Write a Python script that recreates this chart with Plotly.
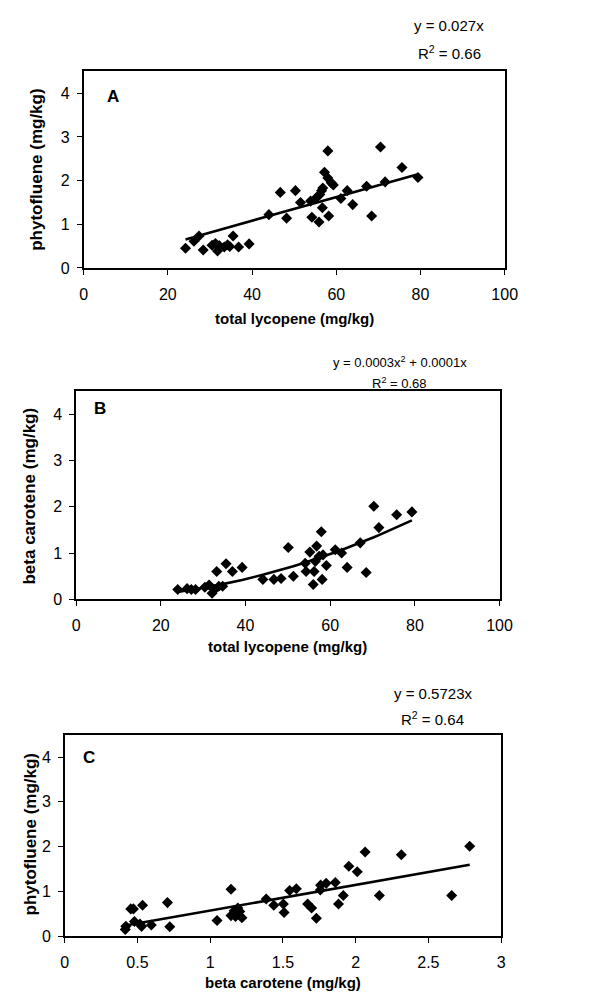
import plotly.graph_objects as go

W, H = 603, 992
FONT = "Liberation Sans, Arial, sans-serif"

# ---------------- data ----------------
# Panel A: total lycopene (mg/kg) vs phytofluene (mg/kg)
lyco_a = [24.2, 26.2, 27.4, 28.4, 30.5, 31.3, 31.8, 32.2, 33.4, 34.2, 34.7, 35.5, 36.8, 39.3,
          44.0, 46.7, 48.2, 50.3, 51.5, 53.9, 54.2, 55.3, 55.9, 56.1, 56.5, 56.7, 56.8, 57.2,
          58.0, 58.2, 58.0, 58.8, 59.3, 61.1, 62.6, 63.9, 67.2, 68.4, 70.5, 71.6, 75.6, 79.4]
phyto_a = [0.45, 0.61, 0.73, 0.41, 0.52, 0.56, 0.39, 0.51, 0.48, 0.53, 0.49, 0.73, 0.48, 0.55,
           1.22, 1.73, 1.14, 1.77, 1.50, 1.53, 1.16, 1.61, 1.05, 1.68, 1.77, 1.38, 1.83, 2.19,
           2.68, 1.19, 2.06, 1.95, 1.90, 1.59, 1.77, 1.45, 1.87, 1.19, 2.77, 1.97, 2.30, 2.07]

# Panel B: total lycopene (mg/kg) vs beta carotene (mg/kg)
lyco_b = [24.0, 26.2, 27.2, 28.2, 30.4, 31.4, 32.1, 32.7, 33.2, 33.7, 34.6, 35.4, 36.9, 39.2,
          44.1, 46.7, 48.4, 50.1, 51.3, 54.1, 54.3, 55.2, 56.0, 56.2, 56.5, 56.8, 57.4, 57.9,
          58.1, 58.3, 59.1, 61.2, 62.7, 64.0, 67.1, 68.5, 70.3, 71.5, 75.7, 79.3]
beta_b = [0.21, 0.23, 0.21, 0.21, 0.26, 0.31, 0.13, 0.21, 0.60, 0.28, 0.28, 0.77, 0.60, 0.69,
          0.43, 0.43, 0.45, 1.12, 0.50, 0.78, 0.60, 1.02, 0.32, 0.60, 0.82, 1.15, 0.93, 1.46,
          0.43, 0.96, 0.73, 1.07, 1.00, 0.69, 1.22, 0.58, 2.01, 1.55, 1.83, 1.89]

# Panel C: beta carotene (mg/kg) vs phytofluene (mg/kg)
beta_c = [0.416, 0.42, 0.454, 0.472, 0.479, 0.517, 0.528, 0.535, 0.595, 0.706, 0.722,
          1.047, 1.143, 1.143, 1.165, 1.174, 1.19, 1.203, 1.218, 1.385, 1.437, 1.503, 1.508,
          1.546, 1.592, 1.670, 1.697, 1.730, 1.757, 1.759, 1.797, 1.860, 1.882, 1.915, 1.953,
          2.011, 2.065, 2.163, 2.314, 2.66, 2.784]
phyto_c = [0.15, 0.22, 0.61, 0.61, 0.33, 0.27, 0.22, 0.69, 0.25, 0.75, 0.21,
           0.35, 1.05, 0.46, 0.57, 0.44, 0.63, 0.55, 0.41, 0.83, 0.69, 0.72, 0.53,
           1.02, 1.06, 0.72, 0.63, 0.40, 1.03, 1.14, 1.18, 1.20, 0.72, 0.91, 1.56,
           1.44, 1.88, 0.91, 1.82, 0.91, 2.01]

# Trendline coefficients
slope_a = 0.027
quad_b = (0.00027, 0.0001)
slope_c = 0.5723

eq_a = ["y = 0.027x", "R<sup>2</sup> = 0.66"]
eq_b = ["y = 0.0003x<sup>2</sup> + 0.0001x", "R<sup>2</sup> = 0.68"]
eq_c = ["y = 0.5723x", "R<sup>2</sup> = 0.64"]

panel_labels = ["A", "B", "C"]
x_titles = ["total lycopene (mg/kg)", "total lycopene (mg/kg)", "beta carotene (mg/kg)"]
y_titles = ["phytofluene (mg/kg)", "beta carotene (mg/kg)", "phytofluene (mg/kg)"]
x_ticks_ab = [0, 20, 40, 60, 80, 100]
x_ticks_c = [0, 0.5, 1, 1.5, 2, 2.5, 3]
x_ticktext_c = ["0", "0.5", "1", "1.5", "2", "2.5", "3"]
y_ticks = [0, 1, 2, 3, 4]

# ---------------- helpers ----------------
def fx(px):
    return px / W

def fy(py):
    return 1 - py / H

# plot boxes in pixels: (left, right, top, bottom)
boxes = [(73.7, 507.0, 64.0, 262.3),
         (66.0, 501.7, 386.7, 596.7),
         (54.3, 503.3, 733.3, 936.7)]

fig = go.Figure()

def scatter(x, y, i):
    ax = "" if i == 0 else str(i + 1)
    fig.add_trace(go.Scatter(x=x, y=y, mode="markers", xaxis="x" + ax, yaxis="y" + ax,
                             marker=dict(symbol="diamond", size=8.5, color="black"),
                             showlegend=False, hoverinfo="x+y"))

def trend(x, y, i):
    ax = "" if i == 0 else str(i + 1)
    fig.add_trace(go.Scatter(x=x, y=y, mode="lines", xaxis="x" + ax, yaxis="y" + ax,
                             line=dict(color="black", width=2.6),
                             showlegend=False, hoverinfo="skip"))

# Panel A
xa = sorted(lyco_a)
trend([xa[0], xa[-1]], [slope_a * xa[0], slope_a * xa[-1]], 0)
scatter(lyco_a, phyto_a, 0)
# Panel B
xb = sorted(lyco_b)
trend(xb, [quad_b[0] * v * v + quad_b[1] * v for v in xb], 1)
scatter(lyco_b, beta_b, 1)
# Panel C
xc = sorted(beta_c)
trend([xc[0], xc[-1]], [slope_c * xc[0], slope_c * xc[-1]], 2)
scatter(beta_c, phyto_c, 2)

axis_common = dict(showline=True, linecolor="black", linewidth=1.5, mirror=True,
                   showgrid=False, zeroline=False, ticks="outside", ticklen=5,
                   tickcolor="black", tickwidth=1.2,
                   tickfont=dict(family=FONT, size=16, color="black"))

layout = dict(width=W, height=H, margin=dict(l=0, r=0, t=0, b=0),
              paper_bgcolor="white", plot_bgcolor="white", showlegend=False)

for i, (l, r, t, b) in enumerate(boxes):
    ax = "" if i == 0 else str(i + 1)
    xr = [0, 3] if i == 2 else [0, 100]
    xt = x_ticks_c if i == 2 else x_ticks_ab
    xtt = x_ticktext_c if i == 2 else [str(v) for v in x_ticks_ab]
    layout["xaxis" + ax] = dict(axis_common, domain=[fx(l), fx(r)], range=xr,
                                tickvals=xt, ticktext=xtt, anchor="y" + ax,
                                ticklabelstandoff=6)
    layout["yaxis" + ax] = dict(axis_common, domain=[fy(b), fy(t)], range=[0, 4.5],
                                tickvals=y_ticks, anchor="x" + ax,
                                ticklabelstandoff=4)

fig.update_layout(**layout)

ann = []
def text(x, y, s, size, bold=False, angle=0):
    ann.append(dict(x=fx(x), y=fy(y), xref="paper", yref="paper", text=s,
                    showarrow=False, xanchor="center", yanchor="middle", textangle=angle,
                    font=dict(family=FONT, size=size, color="black",
                              weight="bold" if bold else "normal")))

# panel labels
text(104, 89, panel_labels[0], 17, True)
text(90.7, 404, panel_labels[1], 17, True)
text(79, 756, panel_labels[2], 17, True)

# axis titles
text(290.5, 313, x_titles[0], 15, True)
text(284, 644, x_titles[1], 15, True)
text(279, 983, x_titles[2], 15, True)
text(25, 163, y_titles[0], 17, True, -90)
text(18.5, 492, y_titles[1], 17, True, -90)
text(18.5, 834, y_titles[2], 17, True, -90)

# equations
text(450, 18, eq_a[0], 15)
text(450, 45, eq_a[1], 15)
text(399, 357.5, eq_b[0], 13)
text(399, 378, eq_b[1], 13)
text(433, 692, eq_c[0], 15)
text(432.5, 717.5, eq_c[1], 15)

fig.update_layout(annotations=ann)
fig.write_html("out.html")
